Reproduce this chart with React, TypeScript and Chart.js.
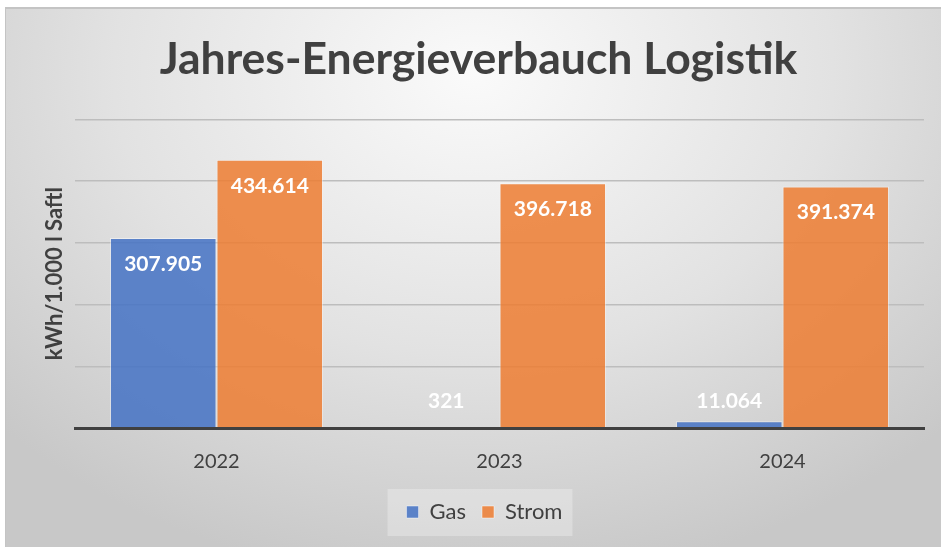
import React, { useEffect, useRef } from "react";
import { Chart, registerables } from "chart.js";
Chart.register(...registerables);

const categories = ["2022", "2023", "2024"];
const gasValues = [307905, 321, 11064];
const stromValues = [434614, 396718, 391374];
const seriesNames = ["Gas", "Strom"];
const yMax = 500000;
const yStep = 100000;
const chartTitle = "Jahres-Energieverbauch Logistik";
const yAxisTitle = "kWh/1.000 l Saftl";

const FONT = "Lato";
const TEXT = "#404040";

function formatDe(v: number): string {
  return String(v).replace(/\B(?=(\d{3})+(?!\d))/g, ".");
}

const legendShiftPlugin = {
  id: "legendShift",
  afterLayout(chart: any) {
    const lg = chart.legend;
    if (!lg) return;
    lg.left += 6;
    lg.right += 6;
  },
};

const legendBgPlugin = {
  id: "legendBg",
  beforeDraw(chart: any) {
    const lg = chart.legend;
    if (!lg || !lg.legendHitBoxes || !lg.legendHitBoxes.length) return;
    const hb = lg.legendHitBoxes;
    let l = Infinity, r = -Infinity, t = Infinity, b = -Infinity;
    hb.forEach((h: any) => {
      l = Math.min(l, h.left);
      r = Math.max(r, h.left + h.width);
      t = Math.min(t, h.top);
      b = Math.max(b, h.top + h.height);
    });
    const ctx = chart.ctx;
    ctx.save();
    ctx.fillStyle = "rgba(255,255,255,0.28)";
    ctx.fillRect(l - 19, t - 12, r - l + 29, b - t + 25);
    ctx.restore();
  },
};

const dataLabelPlugin = {
  id: "dataLabels",
  afterDatasetsDraw(chart: any) {
    const ctx = chart.ctx;
    ctx.save();
    ctx.fillStyle = "#ffffff";
    ctx.font = `bold 21px ${FONT}`;
    ctx.textAlign = "center";
    ctx.textBaseline = "middle";
    chart.data.datasets.forEach((ds: any, di: number) => {
      const meta = chart.getDatasetMeta(di);
      meta.data.forEach((el: any, i: number) => {
        const y = Math.min(el.y + 26, el.base - 26);
        ctx.fillText(formatDe(ds.data[i]), el.x, y);
      });
    });
    ctx.restore();
  },
};

export default function App() {
  const ref = useRef<HTMLCanvasElement | null>(null);
  useEffect(() => {
    if (!ref.current) return;
    const chart = new Chart(ref.current, {
      type: "bar",
      data: {
        labels: categories,
        datasets: [
          {
            label: seriesNames[0],
            data: gasValues,
            backgroundColor: "rgba(68,114,196,0.85)",
            borderColor: "rgba(255,255,255,0.45)",
            borderWidth: 1,
            categoryPercentage: 0.753,
            barPercentage: 1.0,
          },
          {
            label: seriesNames[1],
            data: stromValues,
            backgroundColor: "rgba(237,125,49,0.85)",
            borderColor: "rgba(255,255,255,0.45)",
            borderWidth: 1,
            categoryPercentage: 0.753,
            barPercentage: 1.0,
          },
        ],
      },
      options: {
        responsive: false,
        animation: false,
        devicePixelRatio: 1,
        layout: { padding: { left: 27, right: 16, top: 0, bottom: 14 } },
        plugins: {
          title: {
            display: true,
            text: chartTitle,
            color: TEXT,
            font: { family: FONT, size: 44.5, weight: "bold" },
            padding: { top: 25, bottom: 33 },
          },
          legend: {
            position: "bottom",
            labels: {
              color: TEXT,
              font: { family: FONT, size: 22 },
              boxWidth: 12,
              boxHeight: 12,
              padding: 16,
            },
          },
          tooltip: { enabled: false },
        },
        scales: {
          x: {
            grid: { display: false, drawTicks: false },
            border: { display: true, color: "#404040", width: 3, z: 1 },
            ticks: { color: TEXT, font: { family: FONT, size: 20 }, padding: 22 },
            afterFit: (s: any) => {
              s.height = 57;
            },
          },
          y: {
            min: 0,
            max: yMax,
            ticks: { display: false, stepSize: yStep },
            grid: {
              color: (c: any) => (c.tick && c.tick.value === 0 ? "rgba(0,0,0,0)" : "#bdbdbd"),
              lineWidth: 1.5,
              drawTicks: false,
            },
            border: { display: false },
            title: {
              display: true,
              text: yAxisTitle,
              color: TEXT,
              font: { family: FONT, size: 22, weight: "bold" },
              padding: { top: 9, bottom: 0 },
            },
            afterFit: (s: any) => {
              s.width = 42;
            },
          },
        },
      } as any,
      plugins: [legendShiftPlugin, legendBgPlugin, dataLabelPlugin],
    });
    return () => chart.destroy();
  }, []);

  return (
    <div style={{ position: "absolute", left: 0, top: 0, width: 941, height: 547, background: "#ffffff", overflow: "hidden" }}>
      <div
        style={{
          position: "absolute",
          left: 5,
          top: 7,
          width: 936,
          height: 540,
          boxSizing: "border-box",
          borderTop: "2px solid #c4c4c4",
          borderLeft: "1px solid #c4c4c4",
          background: "radial-gradient(ellipse 70% 95% at 50% 12%, #fafafa 0%, #e2e2e2 55%, #c8c8c8 100%)",
        }}
      />
      <canvas
        ref={ref}
        width={934}
        height={539}
        style={{ position: "absolute", left: 6, top: 8, width: 934, height: 539 }}
      />
    </div>
  );
}
